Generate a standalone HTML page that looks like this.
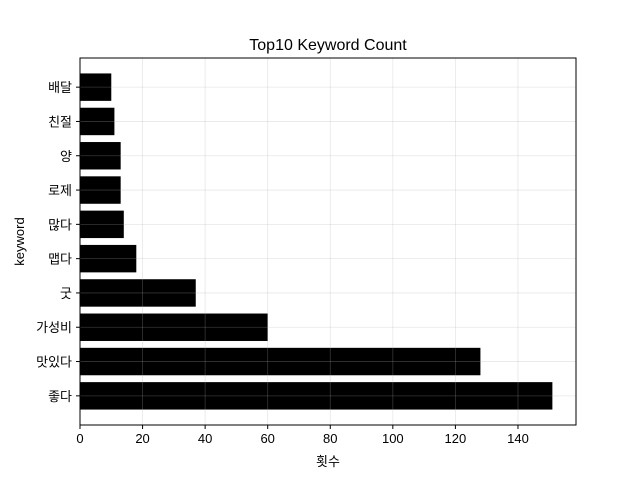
<!DOCTYPE html>
<html><head><meta charset="utf-8"><style>body{margin:0;background:#fff}svg{display:block;font-family:"Liberation Sans","Noto Sans CJK KR",sans-serif}</style></head>
<body>
<svg id="c" width="640" height="480"></svg>
<script>
const categories=["좋다","맛있다","가성비","굿","맵다","많다","로제","양","친절","배달"];
const counts=[151,128,60,37,18,14,13,13,11,10];
const xTicks=[0,20,40,60,80,100,120,140];
const L=80,R=576,T=58,B=425,xmax=158.55;
const xs=v=>L+v/xmax*(R-L);
const step=(B-T)/(categories.length-1+1.7);
const ys=i=>B-(0.85+i)*step;
const svg=document.getElementById('c');const NS='http://www.w3.org/2000/svg';
function el(t,a,p){const e=document.createElementNS(NS,t);for(const k in a)e.setAttribute(k,a[k]);(p||svg).appendChild(e);return e;}
categories.forEach((c,i)=>{
 const r=el('rect',{x:L,y:ys(i)-0.4*step,width:xs(counts[i])-L,height:0.8*step,fill:'#000'});
 
 
 el('line',{x1:L-4,x2:L,y1:ys(i),y2:ys(i),stroke:'#000'});
 const t=el('text',{x:L-8,y:ys(i)+5,'text-anchor':'end','font-size':13});t.textContent=c;
 
 
 el('line',{x1:L,x2:R,y1:ys(i),y2:ys(i),stroke:'#b0b0b0','stroke-opacity':0.3,'stroke-width':0.8});
});
xTicks.forEach(v=>{
 el('line',{x1:xs(v),x2:xs(v),y1:T,y2:B,stroke:'#b0b0b0','stroke-opacity':0.3,'stroke-width':0.8});
 el('line',{x1:xs(v),x2:xs(v),y1:B,y2:B+4,stroke:'#000'});
 const t=el('text',{x:xs(v),y:B+18,'text-anchor':'middle','font-size':13});t.textContent=v;
 
 
});
el('rect',{x:L,y:T,width:R-L,height:B-T,fill:'none',stroke:'#000','stroke-width':1});
const ti=el('text',{x:(L+R)/2,y:50,'text-anchor':'middle','font-size':16});ti.textContent='Top10 Keyword Count';


const xl=el('text',{x:(L+R)/2,y:466,'text-anchor':'middle','font-size':13});xl.textContent='횟수';


const yl=el('text',{x:24,y:(T+B)/2,'text-anchor':'middle','font-size':13,transform:'rotate(-90 24 '+(T+B)/2+')'});yl.textContent='keyword';


</script>
</body></html>
